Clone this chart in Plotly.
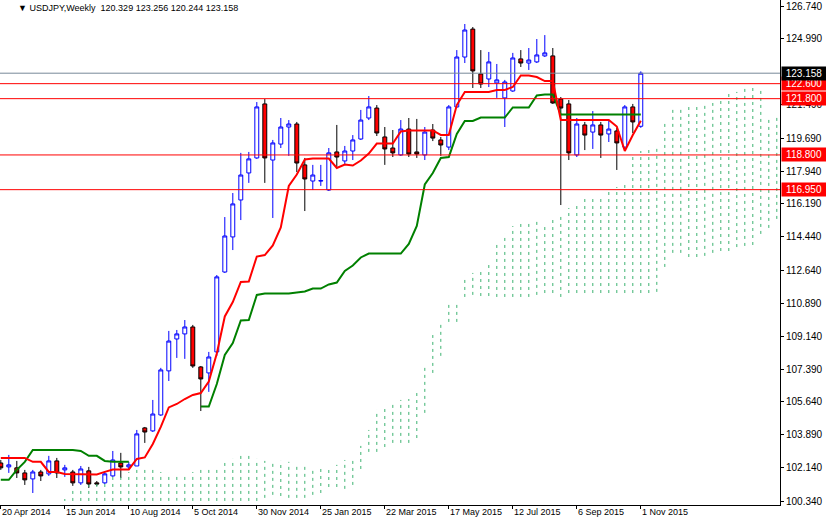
import plotly.graph_objects as go
import pandas as pd

# Weekly candles, bar 0 = week of 20 Apr 2014, bar 80 = week of 1 Nov 2015
opens = [102.38,102.17,102.12,101.85,101.53,101.90,101.80,102.49,102.01,101.90,
         101.32,101.96,101.32,101.32,101.69,102.38,102.17,102.22,104.25,104.09,
         104.94,107.29,108.99,109.26,109.63,107.50,107.18,108.30,112.56,114.43,
         116.40,117.84,118.64,121.52,118.53,119.38,120.29,120.45,118.27,117.41,
         117.41,116.93,118.96,118.48,119.01,119.65,120.77,121.30,119.76,119.17,
         118.80,120.18,118.96,118.80,120.13,119.60,119.22,121.36,124.02,125.51,
         123.12,122.85,122.64,121.84,122.21,123.92,123.70,123.76,124.08,124.08,
         121.78,121.52,118.80,120.40,120.02,120.40,119.92,120.08,119.22,121.36,
         120.329]
highs = [102.54,102.81,102.49,102.01,102.01,102.01,102.76,102.65,102.28,102.01,
         102.22,102.17,101.42,101.90,103.02,102.92,102.44,104.14,104.30,105.74,
         107.45,109.42,109.47,110.00,109.74,107.55,108.30,112.40,115.49,116.77,
         118.91,118.96,121.62,121.78,119.60,120.77,120.66,120.56,118.64,118.27,
         118.27,119.17,120.40,119.28,119.86,121.20,121.94,121.46,120.29,120.13,
         120.66,120.77,120.72,120.29,120.45,119.76,121.46,124.39,125.78,125.62,
         124.39,124.29,123.65,122.80,124.24,124.39,124.50,124.98,125.19,124.50,
         121.89,121.73,120.77,120.56,121.14,120.56,120.61,120.24,121.46,121.52,
         123.256]
lows = [102.01,101.85,101.58,101.21,100.78,101.42,101.69,101.58,101.64,101.16,
        101.21,101.05,101.16,101.26,101.64,101.58,102.01,102.22,103.45,104.03,
        104.89,106.75,107.98,107.93,107.45,105.15,106.17,108.09,112.51,113.73,
        115.33,117.31,118.59,117.31,115.44,119.17,118.75,117.89,115.81,116.93,
        117.15,116.88,118.16,118.32,118.53,119.60,120.66,119.81,118.27,118.69,
        118.75,118.69,118.64,118.53,119.54,118.75,119.06,121.30,123.70,122.37,
        122.37,122.42,121.84,120.29,122.16,123.49,123.33,123.70,124.02,121.52,
        116.13,118.53,118.69,119.06,119.12,118.64,119.49,118.00,119.17,119.97,
        120.244]
closes = [102.12,102.28,101.85,101.48,101.90,101.69,102.49,101.85,102.12,101.32,
          102.06,101.26,101.26,101.80,102.54,102.17,102.28,103.93,104.03,104.99,
          107.34,108.88,109.26,109.63,107.55,106.86,108.03,112.30,114.48,116.19,
          117.73,118.59,121.36,118.64,119.44,120.29,120.45,118.37,117.52,117.73,
          117.43,118.91,118.69,119.01,119.60,120.66,121.36,119.97,119.12,118.91,
          120.18,118.85,118.85,120.02,119.70,119.33,121.36,124.02,125.46,123.28,
          122.58,123.76,122.80,122.69,123.97,123.70,123.86,124.13,124.24,121.57,
          121.30,118.91,120.45,119.86,120.40,119.86,120.18,119.44,121.36,120.56,
          123.158]

# Ichimoku values for bars whose lookback starts before the visible history
tenkan_prior = [102.65,102.65,102.65,102.65,102.44,102.44,101.90,101.90]
kijun_prior = [101.48,101.48,102.01,102.44,103.07,103.07,103.07,103.07,103.07,103.07,
               103.02,102.76,102.76,102.49,102.44,102.44,102.44]

# Cloud (Senkou span) extent per bar, bars 8..97
cloud_top = [100.46,100.89,101.10,101.21,101.32,101.48,101.64,101.85,101.90,102.01,
             102.01,102.01,101.90,101.85,101.64,101.69,101.90,102.01,102.06,102.17,
             102.38,102.60,102.76,102.76,102.60,102.49,102.49,102.49,102.44,102.28,
             102.28,102.17,102.17,102.17,102.28,102.54,102.65,103.29,104.14,105.21,
             105.31,105.58,105.74,105.79,106.11,107.50,109.20,109.84,111.02,111.02,
             112.35,112.51,112.72,113.04,114.16,114.59,115.01,115.12,115.17,115.28,
             115.12,115.44,115.60,115.97,116.24,116.51,116.51,116.51,116.83,117.09,
             117.41,118.69,119.01,119.28,119.33,120.66,121.36,121.36,121.46,121.52,
             121.57,121.57,121.89,122.16,122.16,122.48,122.48,122.42,120.82,120.82]
cloud_bot = [99.61,99.61,99.61,99.61,99.61,99.61,99.61,99.61,99.61,99.61,
             99.61,99.61,99.61,99.61,99.61,99.61,99.61,99.61,99.61,99.61,
             99.61,99.61,99.61,99.61,99.61,100.52,100.68,100.62,100.52,100.52,
             100.52,100.68,100.78,101.10,101.10,101.00,101.21,102.06,102.97,102.97,
             103.23,103.45,103.45,103.45,103.71,105.05,107.18,108.09,109.90,109.90,
             111.23,111.34,111.28,111.28,111.23,111.23,111.23,111.23,111.23,111.34,
             111.44,111.44,111.23,111.44,111.44,111.44,111.44,111.44,111.44,111.44,
             111.44,111.44,111.44,111.44,111.50,112.83,113.58,113.58,113.36,113.36,
             113.42,113.58,113.68,113.68,113.89,113.95,114.00,114.59,114.91,115.39]
cloud_start = 8

date_labels = ["20 Apr 2014","15 Jun 2014","10 Aug 2014","5 Oct 2014","30 Nov 2014",
               "25 Jan 2015","22 Mar 2015","17 May 2015","12 Jul 2015","6 Sep 2015","1 Nov 2015"]
date_bars = [0,8,16,24,32,40,48,56,64,72,80]
price_ticks = [126.740,124.990,121.490,119.690,117.940,116.190,114.440,112.640,
               110.890,109.140,107.390,105.640,103.890,102.140,100.340]
levels = [122.600,121.800,118.800,116.950]
last_price = 123.158

FONT = "Liberation Sans"
FS = 9

n = len(opens)
bars = list(range(n))
hs, ls = pd.Series(highs), pd.Series(lows)
tenkan = ((hs.rolling(9).max() + ls.rolling(9).min()) / 2).tolist()
kijun = ((hs.rolling(26).max() + ls.rolling(26).min()) / 2).tolist()
tenkan[:len(tenkan_prior)] = tenkan_prior
kijun[:len(kijun_prior)] = kijun_prior

fig = go.Figure()
cx, cy = [], []
for i, (t, b) in enumerate(zip(cloud_top, cloud_bot)):
    cx += [cloud_start + i, cloud_start + i, None]
    cy += [b, t, None]
fig.add_trace(go.Scatter(x=cx, y=cy, mode="lines",
                         line=dict(color="#3cb371", width=1, dash="3px,4px"),
                         hoverinfo="skip"))
fig.add_trace(go.Scatter(x=bars, y=kijun, mode="lines", line=dict(color="#008000", width=2)))
fig.add_trace(go.Scatter(x=bars, y=tenkan, mode="lines", line=dict(color="#ff0000", width=2)))
fig.add_trace(go.Candlestick(x=bars, open=opens, high=highs, low=lows, close=closes,
                             increasing=dict(line=dict(color="#0000ff", width=1), fillcolor="#ffffff"),
                             decreasing=dict(line=dict(color="#000000", width=1), fillcolor="#ff0000"),
                             whiskerwidth=0))

for lv in levels:
    fig.add_shape(type="line", xref="paper", x0=0, x1=1, y0=lv, y1=lv,
                  line=dict(color="#ff0000", width=1))
    fig.add_annotation(xref="paper", x=1, y=lv, text=f"{lv:.3f}", showarrow=False,
                       xanchor="left", xshift=1, bgcolor="#ff0000",
                       font=dict(color="white", size=FS + 1, family=FONT),
                       borderpad=1, width=42, align="center")
fig.add_shape(type="line", xref="paper", x0=0, x1=1, y0=last_price, y1=last_price,
              line=dict(color="#778899", width=1))
fig.add_annotation(xref="paper", x=1, y=last_price, text=f"{last_price:.3f}", showarrow=False,
                   xanchor="left", xshift=1, bgcolor="#000000",
                   font=dict(color="white", size=FS + 1, family=FONT),
                   borderpad=1, width=42, align="center")

for b, lab in zip(date_bars, date_labels):
    fig.add_annotation(x=b - 0.1, y=0, yref="paper", text=lab, showarrow=False,
                       xanchor="left", yanchor="top", yshift=0,
                       font=dict(size=FS, family=FONT, color="black"))

fig.add_annotation(xref="paper", yref="paper", x=0.02, y=1, yshift=-1, xanchor="left", yanchor="top",
                   text="▼ USDJPY,Weekly  120.329 123.256 120.244 123.158", showarrow=False,
                   font=dict(size=FS, family=FONT, color="black"))

fig.update_layout(width=826, height=522, margin=dict(l=0, r=46, t=0, b=17, pad=0),
                  paper_bgcolor="white", plot_bgcolor="white", showlegend=False,
                  xaxis=dict(range=[-0.1, 97.4], showgrid=False, zeroline=False, automargin=False,
                             rangeslider=dict(visible=False), tickvals=date_bars,
                             ticktext=[""] * len(date_bars), ticks="outside", ticklen=3,
                             tickcolor="black", showline=True, linecolor="black"),
                  yaxis=dict(range=[100.14, 127.06], side="right", showgrid=False, zeroline=False,
                             automargin=False,
                             tickvals=price_ticks, ticktext=[f"{v:.3f}" for v in price_ticks],
                             ticks="outside", ticklen=3, tickcolor="black", showline=True,
                             linecolor="black",
                             tickfont=dict(size=FS + 1, family=FONT, color="black")))
fig.write_html("out.html", config={"displayModeBar": False},
               post_script="document.body.style.margin='0';document.body.style.overflow='hidden';")
